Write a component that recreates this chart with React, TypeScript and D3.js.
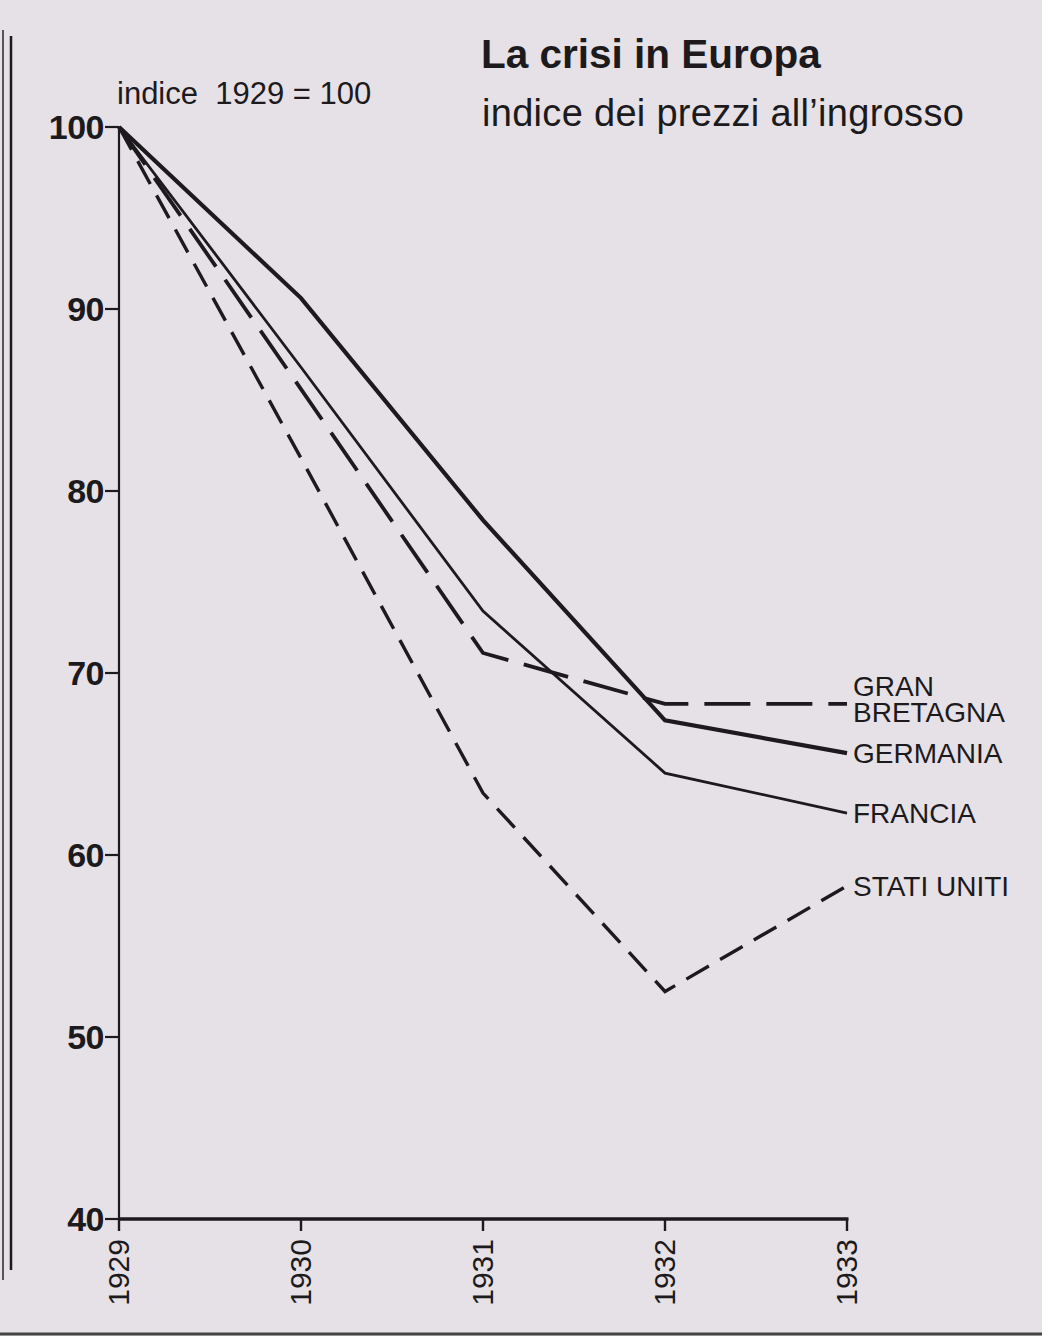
import React from 'react';
import * as d3 from 'd3';

// Wholesale price index, 1929 = 100
const years = [1929, 1930, 1931, 1932, 1933];
const germania = [100, 90.6, 78.4, 67.4, 65.6];
const francia = [100, 86.8, 73.4, 64.5, 62.3];
const granBretagna = [100, 85.6, 71.1, 68.3, 68.3];
const statiUniti = [100, 81.8, 63.4, 52.5, 58.3];
const yTicks = [40, 50, 60, 70, 80, 90, 100];

const series = [
  { name: ['GRAN', 'BRETAGNA'], values: granBretagna, width: 3.8, dash: '46 16' },
  { name: ['GERMANIA'], values: germania, width: 4.2, dash: null },
  { name: ['FRANCIA'], values: francia, width: 2.8, dash: null },
  { name: ['STATI UNITI'], values: statiUniti, width: 3.4, dash: '26 13' },
];

const W = 1042;
const H = 1336;
const font = '"Liberation Sans", Arial, sans-serif';
const ink = '#1c1a1c';

const App: React.FC = () => {
  const x = d3.scalePoint<number>().domain(years).range([119, 847]);
  const y = d3.scaleLinear().domain([40, 100]).range([1219, 127]);

  const line = d3
    .line<number>()
    .x((_, i) => x(years[i]) as number)
    .y(d => y(d));

  const lastX = x(years[years.length - 1]) as number;

  return (
    <div style={{ position: 'absolute', left: 0, top: 0 }}>
      <svg width={W} height={H} style={{ display: 'block' }}>
        <rect width={W} height={H} fill="#e6e1e6" />
        {/* paper edge */}
        <line x1={3} x2={3} y1={30} y2={1280} stroke="#555" strokeWidth={2} />
        <line x1={11} x2={11} y1={36} y2={1270} stroke={ink} strokeWidth={2.5} />
        <line x1={0} x2={W} y1={1334} y2={1334} stroke="#444" strokeWidth={3} />

        {/* title */}
        <text x={481} y={68} fontFamily={font} fontWeight="bold" fontSize={40.5} fill={ink}>
          La crisi in Europa
        </text>
        <text x={482} y={126} fontFamily={font} fontSize={38} letterSpacing={0.3} fill={ink}>
          indice dei prezzi all’ingrosso
        </text>
        <text x={117} y={104} fontFamily={font} fontSize={31} fill={ink} style={{ whiteSpace: 'pre' }}>
          indice  1929 = 100
        </text>

        {/* y axis */}
        <line x1={119} x2={119} y1={y(100)} y2={y(40)} stroke={ink} strokeWidth={2.2} />
        {yTicks.map(t => (
          <g key={t}>
            <line x1={105} x2={119} y1={y(t)} y2={y(t)} stroke={ink} strokeWidth={2.2} />
            <text
              x={104}
              y={y(t) + 12}
              textAnchor="end"
              fontFamily={font}
              fontWeight="bold"
              fontSize={34}
              letterSpacing={-0.5}
              fill={ink}
            >
              {t}
            </text>
          </g>
        ))}

        {/* x axis */}
        <line x1={x(1929)} x2={lastX + 1.5} y1={y(40)} y2={y(40)} stroke={ink} strokeWidth={3.4} />
        {years.map(yr => (
          <g key={yr}>
            <line x1={x(yr)} x2={x(yr)} y1={y(40)} y2={y(40) + 12} stroke={ink} strokeWidth={2.4} />
            <text
              transform={`translate(${(x(yr) as number) + 10},${y(40) + 20}) rotate(-90)`}
              textAnchor="end"
              fontFamily={font}
              fontSize={30}
              fill={ink}
            >
              {yr}
            </text>
          </g>
        ))}

        {/* lines */}
        {series.map(s => (
          <path
            key={s.name.join(' ')}
            d={line(s.values) ?? ''}
            fill="none"
            stroke={ink}
            strokeWidth={s.width}
            strokeDasharray={s.dash ?? undefined}
            strokeLinejoin="miter"
          />
        ))}

        {/* labels */}
        {series.map(s => {
          const vy = y(s.values[s.values.length - 1]);
          const lines = s.name;
          const offset = lines.length > 1 ? -18 : 0;
          return (
            <text
              key={s.name.join(' ')}
              x={lastX + 6}
              y={vy + offset + 10}
              fontFamily={font}
              fontSize={28}
              fill={ink}
            >
              {lines.map((l, i) => (
                <tspan key={l} x={lastX + 6} dy={i === 0 ? 0 : 26}>
                  {l}
                </tspan>
              ))}
            </text>
          );
        })}
      </svg>
    </div>
  );
};

export default App;
